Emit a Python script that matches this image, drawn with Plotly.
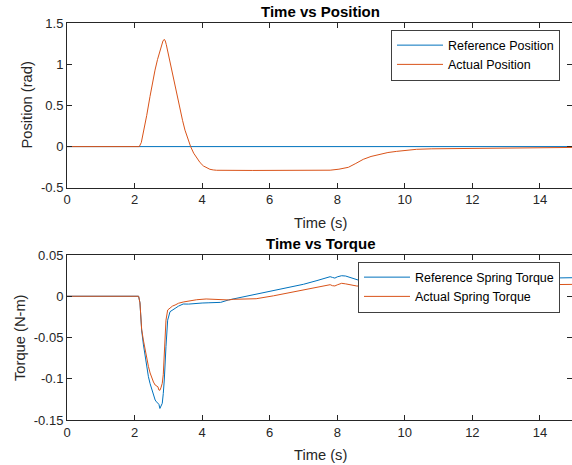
import plotly.graph_objects as go

# ---------------- data ----------------
pos_ref_t = [0, 15]
pos_ref_v = [0, 0]

pos_act_t = [0, 2.14, 2.20, 2.26, 2.36, 2.457, 2.53, 2.605, 2.68, 2.753, 2.80, 2.84, 2.88, 2.91,
             2.94, 2.98, 3.049, 3.12, 3.197, 3.27, 3.345, 3.42, 3.493, 3.58, 3.66, 3.75, 3.84,
             3.94, 4.04, 4.13, 4.23, 4.33, 4.43, 5.5, 7.0, 7.79, 8.05, 8.33, 8.55, 8.77, 9.0,
             9.27, 9.5, 9.76, 10.0, 10.35, 10.8, 11.24, 12.0, 12.72, 13.5, 14.2, 15]
pos_act_v = [0, 0, 0.05, 0.16, 0.38, 0.61, 0.78, 0.93, 1.06, 1.175, 1.24, 1.285, 1.305, 1.285,
             1.24, 1.16, 1.05, 0.89, 0.73, 0.58, 0.445, 0.32, 0.20, 0.09, 0.0, -0.08, -0.14,
             -0.195, -0.236, -0.26, -0.276, -0.284, -0.288, -0.29, -0.29, -0.287, -0.275,
             -0.252, -0.205, -0.155, -0.12, -0.09, -0.072, -0.058, -0.046, -0.033, -0.027,
             -0.025, -0.022, -0.02, -0.016, -0.013, -0.01]

tq_ref_t = [0, 2.12, 2.16, 2.21, 2.26, 2.31, 2.36, 2.41, 2.46, 2.51, 2.56, 2.61, 2.65, 2.69,
            2.72, 2.75, 2.78, 2.82, 2.85, 2.88, 2.93, 2.98, 3.05, 3.12, 3.2, 3.3, 3.44, 3.6,
            3.8, 4.0, 4.2, 4.4, 4.55, 4.78, 5.2, 5.6, 6.11, 6.6, 7.0, 7.4, 7.79, 7.86, 7.93,
            8.0, 8.13, 8.25, 8.38, 8.48, 8.63, 9.5, 10.5, 11.5, 12.5, 13.5, 14.5, 15]
tq_ref_v = [0, 0, -0.008, -0.041, -0.058, -0.073, -0.085, -0.0975, -0.106, -0.1136, -0.12,
            -0.1258, -0.128, -0.1298, -0.131, -0.136, -0.134, -0.1298, -0.118, -0.1015, -0.061,
            -0.029, -0.0187, -0.0165, -0.0147, -0.012, -0.0094, -0.0095, -0.0085, -0.0082,
            -0.0079, -0.0076, -0.0074, -0.0045, -0.0008, 0.0025, 0.0068, 0.011, 0.0145, 0.019,
            0.0237, 0.0228, 0.022, 0.0235, 0.0249, 0.0245, 0.023, 0.022, 0.0195, 0.019, 0.0195,
            0.02, 0.021, 0.0215, 0.0222, 0.0225]

tq_act_t = [0, 2.12, 2.16, 2.21, 2.26, 2.31, 2.36, 2.41, 2.46, 2.51, 2.56, 2.61, 2.65, 2.69,
            2.72, 2.75, 2.78, 2.82, 2.85, 2.88, 2.91, 2.93, 2.98, 3.05, 3.12, 3.2, 3.3, 3.44,
            3.64, 3.84, 4.12, 4.3, 4.53, 4.78, 4.92, 5.42, 5.6, 6.11, 6.6, 7.0, 7.4, 7.79, 7.86,
            7.93, 8.0, 8.13, 8.25, 8.38, 8.58, 9.5, 10.5, 11.5, 12.5, 13.5, 14.5, 15]
tq_act_v = [0, 0, -0.008, -0.04, -0.053, -0.065, -0.075, -0.085, -0.093, -0.0995, -0.104,
            -0.1076, -0.109, -0.1097, -0.1136, -0.114, -0.111, -0.1056, -0.095, -0.073, -0.05,
            -0.029, -0.0167, -0.014, -0.012, -0.0106, -0.0085, -0.007, -0.0054, -0.0042,
            -0.0033, -0.0035, -0.004, -0.0045, -0.0037, -0.0037, -0.003, 0.0005, 0.0045, 0.0076,
            0.0108, 0.014, 0.0128, 0.0125, 0.0138, 0.0157, 0.015, 0.0138, 0.0124, 0.012, 0.0125,
            0.013, 0.0135, 0.014, 0.0144, 0.0144]

x_ticks = [0, 2, 4, 6, 8, 10, 12, 14]
pos_ticks = [-0.5, 0, 0.5, 1, 1.5]
pos_tick_text = ["-0.5", "0", "0.5", "1", "1.5"]
tq_ticks = [-0.15, -0.1, -0.05, 0, 0.05]
tq_tick_text = ["-0.15", "-0.1", "-0.05", "0", "0.05"]

# ---------------- styles ----------------
W, H = 572, 465
BLUE = "#0072BD"
ORANGE = "#D95319"
AX = "#262626"
FONT = "Liberation Sans, Arial, Helvetica, sans-serif"

fig = go.Figure()
fig.add_trace(go.Scatter(x=pos_ref_t, y=pos_ref_v, mode="lines", name="Reference Position",
                         line=dict(color=BLUE, width=1), xaxis="x", yaxis="y", legend="legend"))
fig.add_trace(go.Scatter(x=pos_act_t, y=pos_act_v, mode="lines", name="Actual Position",
                         line=dict(color=ORANGE, width=1), xaxis="x", yaxis="y", legend="legend"))
fig.add_trace(go.Scatter(x=tq_ref_t, y=tq_ref_v, mode="lines", name="Reference Spring Torque",
                         line=dict(color=BLUE, width=1), xaxis="x2", yaxis="y2", legend="legend2"))
fig.add_trace(go.Scatter(x=tq_act_t, y=tq_act_v, mode="lines", name="Actual Spring Torque",
                         line=dict(color=ORANGE, width=1), xaxis="x2", yaxis="y2", legend="legend2"))

x0 = 67 / W
def ydom(top_px, bot_px):
    return [1 - bot_px / H, 1 - top_px / H]

axis_common = dict(showline=True, linecolor=AX, linewidth=1, mirror="ticks", ticks="inside",
                   ticklen=5, tickcolor=AX, tickwidth=1, showgrid=False, zeroline=False,
                   automargin=False, tickfont=dict(family=FONT, size=13, color=AX))

legend_common = dict(xanchor="right", yanchor="top", bgcolor="white", bordercolor="#404040",
                     borderwidth=1, itemwidth=46, tracegroupgap=0,
                     font=dict(family=FONT, size=12.5, color="black"))

xr = [0, (W - 67) / 33.78]
fig.update_layout(
    template="none",
    width=W, height=H, autosize=False, margin=dict(l=0, r=0, t=0, b=0, pad=0),
    paper_bgcolor="white", plot_bgcolor="white",
    font=dict(family=FONT, color=AX),
    xaxis=dict(domain=[x0, 1], range=xr, tickvals=x_ticks, anchor="y", **axis_common),
    yaxis=dict(domain=ydom(23.3, 187.7), range=[-0.5, 1.5], tickvals=pos_ticks,
               ticktext=pos_tick_text, anchor="x", **axis_common),
    xaxis2=dict(domain=[x0, 1], range=xr, tickvals=x_ticks, anchor="y2", **axis_common),
    yaxis2=dict(domain=ydom(255, 420), range=[-0.15, 0.05], tickvals=tq_ticks,
                ticktext=tq_tick_text, anchor="x2", **axis_common),
    legend=dict(x=560 / W, y=1 - 29.5 / H, **legend_common),
    legend2=dict(x=560 / W, y=1 - 261.5 / H, **legend_common),
    showlegend=True,
)

cx = (67 + 573.7) / 2 / W
ann = [
    dict(text="<b>Time vs Position</b>", x=cx, y=1 - 12 / H, size=15, angle=0, color="black"),
    dict(text="<b>Time vs Torque</b>", x=cx, y=1 - 243.5 / H, size=15, angle=0, color="black"),
    dict(text="Time (s)", x=cx, y=1 - 223 / H, size=14.7, angle=0, color=AX),
    dict(text="Time (s)", x=cx, y=1 - 455 / H, size=14.7, angle=0, color=AX),
    dict(text="Position (rad)", x=27 / W, y=1 - 105.5 / H, size=14.7, angle=-90, color=AX),
    dict(text="Torque (N-m)", x=19.5 / W, y=1 - 337.5 / H, size=14.7, angle=-90, color=AX),
]
for a in ann:
    fig.add_annotation(text=a["text"], x=a["x"], y=a["y"], xref="paper", yref="paper",
                       xanchor="center", yanchor="middle", showarrow=False, textangle=a["angle"],
                       font=dict(family=FONT, size=a["size"], color=a["color"]))

fig.write_html("out.html", config={"displayModeBar": False},
               post_script="document.body.style.margin='0px';document.body.style.overflow='hidden';")
